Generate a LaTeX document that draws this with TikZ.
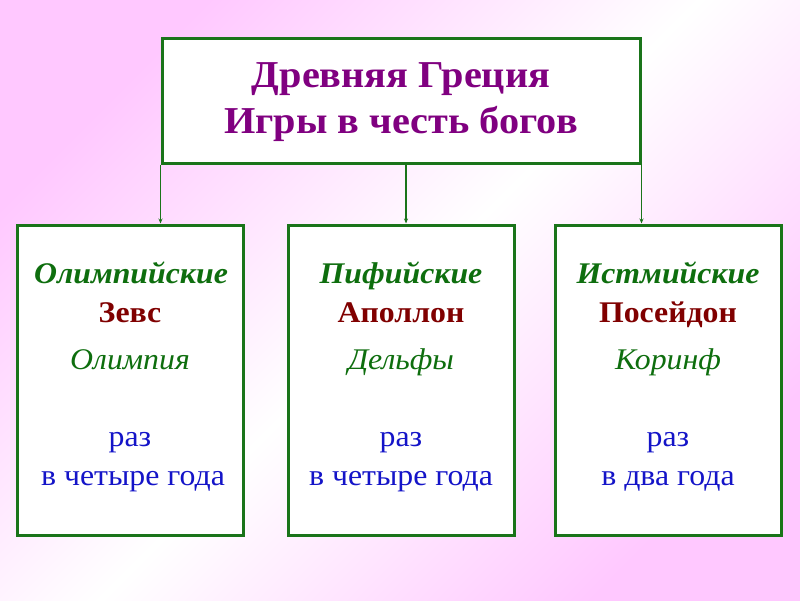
\documentclass[tikz,border=0pt]{standalone}
\usepackage{fontspec}
\setmainfont{Liberation Serif}[FakeStretch=1.06]
\usetikzlibrary{arrows.meta}
\definecolor{bgpink}{HTML}{FFC8FF}
\definecolor{titlepurple}{HTML}{800080}
\definecolor{boxgreen}{HTML}{1A741A}
\definecolor{txtgreen}{HTML}{0E6E0E}
\definecolor{godred}{HTML}{800000}
\definecolor{freqblue}{HTML}{1414C8}
\begin{document}
\begin{tikzpicture}[x=1pt,y=-1pt,
  box/.style={draw=boxgreen, line width=3pt, fill=white, inner sep=0pt},
  topbox/.style={box, minimum width=478pt, minimum height=125pt},
  gamebox/.style={box, minimum width=226pt, minimum height=310pt},
  link/.style={draw=boxgreen, line width=1.1pt, -{Stealth[length=5pt,width=4pt]}},
  txt/.style={anchor=base, inner sep=0pt},
  titletext/.style={txt, text=titlepurple, font=\fontsize{38}{44}\selectfont\bfseries},
  gamename/.style={txt, text=txtgreen, font=\fontsize{30}{36}\selectfont\bfseries\itshape},
  godname/.style={txt, text=godred, font=\fontsize{30}{36}\selectfont\bfseries},
  placename/.style={txt, text=txtgreen, font=\fontsize{30}{36}\selectfont\itshape},
  freqtext/.style={txt, text=freqblue, font=\fontsize{30}{36}\selectfont}]
\useasboundingbox (0,0) rectangle (800,600);
\shade[top color=bgpink, bottom color=bgpink, middle color=white, shading angle=45] (0,0) rectangle (800,600);

\node[topbox] (top) at (401,100.5) {};
\node[gamebox] (olymp) at (130,380) {};
\node[gamebox] (pyth) at (401,380) {};
\node[gamebox] (isth) at (668,380) {};

\coordinate (midout) at ([xshift=5pt]top.south);
\draw[link] (top.south west) -- (top.south west |- olymp.north);
\draw[link] (midout) -- (midout |- pyth.north);
\draw[link] (top.south east) -- (top.south east |- isth.north);

\node[titletext] (t1) at (401,87) {Древняя Греция};
\node[titletext] (t2) at (401,133) {Игры в честь богов};

\node[gamename] (o1) at (131,283) {Олимпийские};
\node[godname] (o2) at (130,322) {Зевс};
\node[placename] (o3) at (130,369) {Олимпия};
\node[freqtext] (o4) at (130,446) {раз};
\node[freqtext] (o5) at (133,485) {в четыре года};

\node[gamename] (p1) at (401,283) {Пифийские};
\node[godname] (p2) at (401,322) {Аполлон};
\node[placename] (p3) at (401,369) {Дельфы};
\node[freqtext] (p4) at (401,446) {раз};
\node[freqtext] (p5) at (401,485) {в четыре года};

\node[gamename] (i1) at (668,283) {Истмийские};
\node[godname] (i2) at (668,322) {Посейдон};
\node[placename] (i3) at (668,369) {Коринф};
\node[freqtext] (i4) at (668,446) {раз};
\node[freqtext] (i5) at (668,485) {в два года};
\end{tikzpicture}
\end{document}
